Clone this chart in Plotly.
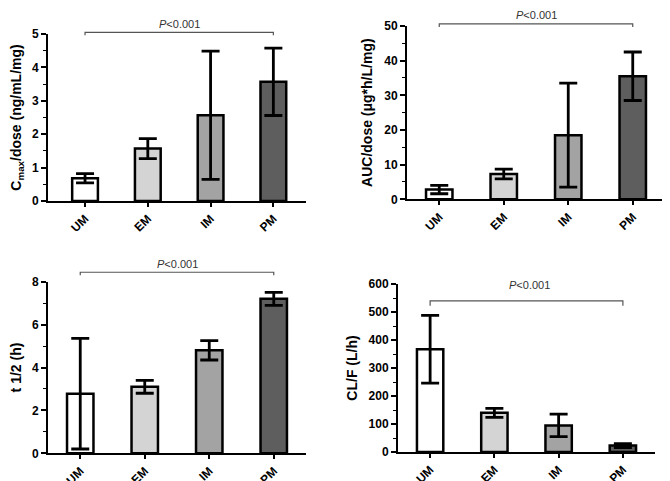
import plotly.graph_objects as go

categories = ["UM", "EM", "IM", "PM"]
bar_colors = ["#ffffff", "#d4d4d4", "#a3a3a3", "#5e5e5e"]

cmax_mean = [0.68, 1.57, 2.57, 3.57]
cmax_err = [0.14, 0.30, 1.92, 1.01]
auc_mean = [2.8, 7.3, 18.5, 35.5]
auc_err = [1.2, 1.4, 15.0, 7.0]
thalf_mean = [2.78, 3.10, 4.80, 7.20]
thalf_err = [2.58, 0.30, 0.45, 0.30]
clf_mean = [367, 140, 95, 23]
clf_err = [121, 16, 40, 7]

W, H = 670, 481
OFF = 8  # page body margin
FONT = "Liberation Sans, Arial, sans-serif"

panels = [
    dict(mean=cmax_mean, err=cmax_err, xpx=(48, 306), ypx=(34, 201), yr=[0, 5], dt=1, mdt=0.5,
         xr=[-0.59, 3.52], title="C<sub>max</sub>/dose (ng/mL/mg)"),
    dict(mean=auc_mean, err=auc_err, xpx=(407, 665), ypx=(26, 199.3), yr=[0, 50], dt=10, mdt=5,
         xr=[-0.5, 3.5], title="AUC/dose (μg*h/L/mg)"),
    dict(mean=thalf_mean, err=thalf_err, xpx=(48, 306), ypx=(281.7, 453.3), yr=[0, 8], dt=2, mdt=1,
         xr=[-0.5, 3.5], title="t 1/2 (h)"),
    dict(mean=clf_mean, err=clf_err, xpx=(398, 655), ypx=(284, 452), yr=[0, 600], dt=100, mdt=50,
         xr=[-0.5, 3.5], title="CL/F (L/h)"),
]

fig = go.Figure()
layout = dict(width=W, height=H, margin=dict(l=0, r=0, t=0, b=0, autoexpand=False),
              paper_bgcolor="white", plot_bgcolor="white", showlegend=False,
              bargap=0.59, font=dict(family=FONT, color="black"))
shapes, annotations = [], []

for i, p in enumerate(panels, start=1):
    xa = "x" if i == 1 else f"x{i}"
    ya = "y" if i == 1 else f"y{i}"
    fig.add_trace(go.Bar(
        x=categories, y=p["mean"], xaxis=xa, yaxis=ya,
        marker=dict(color=bar_colors, line=dict(color="black", width=2.5)),
        error_y=dict(type="data", array=p["err"], visible=True, color="black",
                     thickness=2.8, width=9),
    ))
    xd = [(p["xpx"][0] - OFF) / W, (p["xpx"][1] - OFF) / W]
    yd = [1 - (p["ypx"][1] - OFF) / H, 1 - (p["ypx"][0] - OFF) / H]
    k = "" if i == 1 else str(i)
    layout[f"xaxis{k}"] = dict(
        domain=xd, anchor=ya, range=p["xr"], showline=True, linewidth=2, linecolor="black",
        ticks="outside", ticklen=4, tickwidth=1.5, tickcolor="black", tickangle=-45,
        tickfont=dict(size=12, family=FONT, weight="bold"), showgrid=False, zeroline=False,
        fixedrange=True, automargin=False,
    )
    layout[f"yaxis{k}"] = dict(
        domain=yd, anchor=xa, range=p["yr"], dtick=p["dt"], tick0=0, showline=True, linewidth=2,
        linecolor="black", ticks="outside", ticklen=5, tickwidth=1.5, tickcolor="black",
        tickfont=dict(size=12, family=FONT, weight="bold"), showgrid=False, zeroline=False,
        automargin=False,
        minor=dict(dtick=p["mdt"], ticks="outside", ticklen=3, tickwidth=1, tickcolor="black",
                   showgrid=False),
        title=dict(text=p["title"], font=dict(size=14, family=FONT, weight="bold"), standoff=8),
    )

# significance brackets
brackets = [
    ("x", "y domain", 1.010, 0.992, 1.108),
    ("x2", "y2 domain", 1.012, 0.994, 1.108),
    ("x3", "y3 domain", 1.055, 1.037, 1.151),
]
for xr, yr, yb, ye, yt in brackets:
    shapes.append(dict(type="path", xref=xr, yref=yr,
                       path=f"M 0,{ye} L 0,{yb} L 3,{yb} L 3,{ye}",
                       line=dict(color="#555555", width=1.2)))
    annotations.append(dict(xref=xr, yref=yr, x=1.5, y=yt, text="<i>P</i>&lt;0.001",
                            showarrow=False, font=dict(size=11, family=FONT, color="#333333")))
shapes.append(dict(type="path", xref="x4", yref="y4", path="M 0,522 L 0,540 L 3,540 L 3,522",
                   line=dict(color="#555555", width=1.2)))
annotations.append(dict(xref="x4", yref="y4", x=1.55, y=596, text="<i>P</i>&lt;0.001",
                        showarrow=False, font=dict(size=11, family=FONT, color="#333333")))

layout["shapes"] = shapes
layout["annotations"] = annotations
fig.update_layout(**layout)
fig.write_html("out.html")
